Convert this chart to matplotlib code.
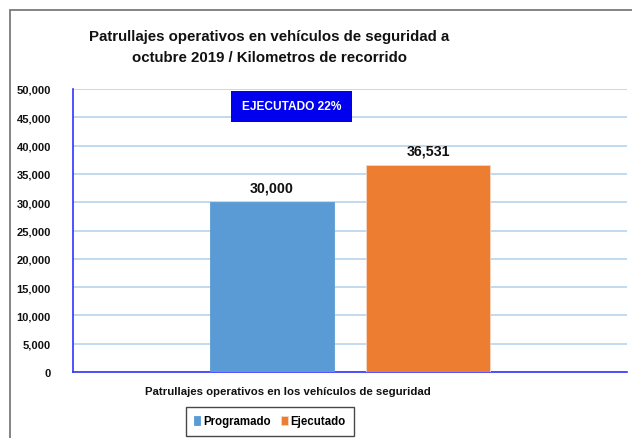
import matplotlib.pyplot as plt
from matplotlib.patches import Rectangle
from matplotlib.ticker import FuncFormatter

# datos
series = ['Programado', 'Ejecutado']
valores = [30000, 36531]
colores = ['#5B9BD5', '#ED7D31']
categoria = 'Patrullajes operativos en los vehículos de seguridad'
titulo = 'Patrullajes operativos en vehículos de seguridad a\noctubre 2019 / Kilometros de recorrido'
nota = 'EJECUTADO 22%'

plt.rcParams['font.family'] = ['Liberation Sans', 'DejaVu Sans']

W, H = 632, 439
fig = plt.figure(figsize=(W / 100, H / 100), dpi=100)


def fx(px):
    return px / W


def fy(py):
    return 1 - py / H


# marco del grafico
fig.patches.append(Rectangle((fx(10), fy(460)), fx(700), fy(11) - fy(460),
                             transform=fig.transFigure, fill=False,
                             edgecolor='#6f6f6f', linewidth=1.2))

ax = fig.add_axes([fx(73), fy(373), fx(627) - fx(73), fy(90) - fy(373)])

offsets = [-0.141, 0.141]
for off, val, col, nom in zip(offsets, valores, colores, series):
    ax.bar(off, val, width=0.224, color=col, edgecolor='#f4d7c4' if nom == 'Ejecutado' else col,
           linewidth=0.6, label=nom, zorder=3)
    ax.text(off, val + 1400, f'{val:,}', ha='center', va='bottom',
            fontsize=10.3, fontweight='bold', color='#111111')

ax.set_xlim(-0.5, 0.5)
ax.set_ylim(0, 50000)
ax.set_yticks(range(0, 50001, 5000))
ax.yaxis.set_major_formatter(FuncFormatter(lambda v, p: f'{int(v):,}'))
ax.set_xticks([])
ax.tick_params(axis='y', length=0, pad=16, labelsize=8, labelcolor='#111111')
for lab in ax.get_yticklabels():
    lab.set_fontweight('bold')
ax.grid(axis='y', color='#BDD7EE', linewidth=1.3, zorder=0)
for s in ['top', 'right']:
    ax.spines[s].set_visible(False)
ax.spines['left'].set_color('#3333FF')
ax.spines['bottom'].set_color('#3333FF')
ax.spines['left'].set_linewidth(1.2)
ax.spines['bottom'].set_linewidth(1.2)

fig.text(fx(269), fy(47.5), titulo, ha='center', va='center', fontsize=10.8,
         fontweight='bold', linespacing=1.6, color='#111111')

# recuadro del porcentaje ejecutado
fig.patches.append(Rectangle((fx(231), fy(123)), fx(352) - fx(231), fy(92) - fy(123),
                             transform=fig.transFigure, facecolor='#0000EE',
                             edgecolor='none', zorder=5))
fig.text(fx(292), fy(107.5), nota, ha='center', va='center', fontsize=8.6,
         fontweight='bold', color='white', zorder=6)

fig.text(fx(288), fy(392), categoria, ha='center', va='center', fontsize=8.2,
         fontweight='bold', color='#111111')

leg = fig.legend(loc='center', bbox_to_anchor=(fx(270), fy(422.5)), ncol=2,
                 frameon=True, fancybox=False, edgecolor='#1a1a1a',
                 handlelength=0.55, handleheight=0.75, handletextpad=0.25,
                 columnspacing=0.9, borderpad=0.75, prop={'weight': 'bold', 'size': 8.3})
leg.get_frame().set_linewidth(1.0)

fig.savefig('out.png', dpi=100)
